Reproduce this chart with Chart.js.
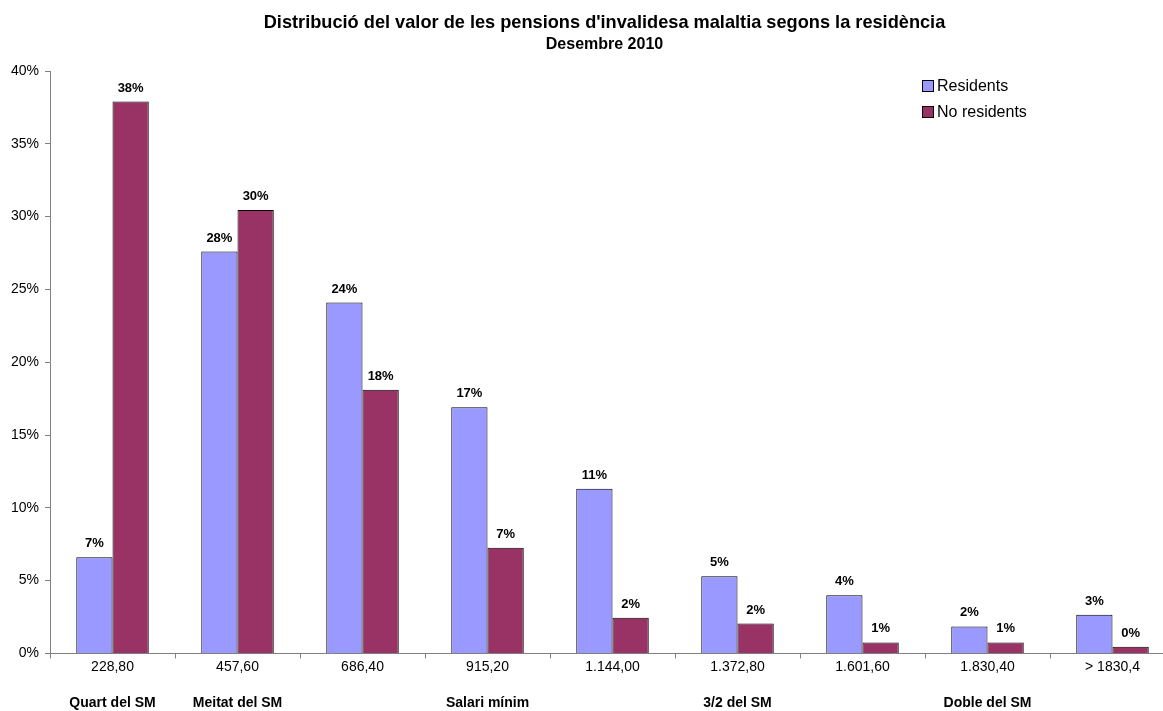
<!DOCTYPE html>
<html lang="ca">
<head>
  <meta charset="UTF-8">
  <title>Pensions d'invalidesa malaltia segons la residència</title>
  <style>
    html, body {
      margin: 0;
      padding: 0;
      background: #fff;
      overflow: hidden;
    }
    #chart {
      display: block;
    }
  </style>
  <script src="https://cdn.jsdelivr.net/npm/chart.js"></script>
</head>
<body>
  <canvas id="chart" width="1206" height="732"></canvas>

  <script>
    // Import trams (EUR) and the reference level under some of them
    const trams = ['228,80', '457,60', '686,40', '915,20', '1.144,00', '1.372,80', '1.601,60', '1.830,40', '> 1830,4'];
    const referencies = ['Quart del SM', 'Meitat del SM', '', 'Salari mínim', '', '3/2 del SM', '', 'Doble del SM', ''];

    // Share of pensions in each tram (%)
    const residents = [6.6, 27.6, 24.1, 16.9, 11.3, 5.3, 4.0, 1.85, 2.65];
    const noResidents = [37.9, 30.45, 18.1, 7.25, 2.45, 2.05, 0.75, 0.75, 0.45];

    const yTicks = [0, 5, 10, 15, 20, 25, 30, 35, 40];

    const titol = "Distribució del valor de les pensions d'invalidesa malaltia segons la residència";
    const subtitol = 'Desembre 2010';

    const FONT = '"Liberation Sans", Arial, sans-serif';

    // Two-line heading, centred a little left of the plot centre
    const heading = {
      id: 'heading',
      afterDraw(chart) {
        const ctx = chart.ctx;
        const area = chart.chartArea;
        const cx = (area.left + area.right) / 2 - 8;
        ctx.save();
        ctx.fillStyle = '#000';
        ctx.textAlign = 'center';
        ctx.textBaseline = 'middle';
        ctx.font = 'bold 18.2px ' + FONT;
        ctx.fillText(titol, cx, 23);
        ctx.font = 'bold 16px ' + FONT;
        ctx.fillText(subtitol, cx, 45);
        ctx.restore();
      }
    };

    // Percentage labels above every bar
    const barLabels = {
      id: 'barLabels',
      afterDatasetsDraw(chart) {
        const ctx = chart.ctx;
        ctx.save();
        ctx.font = 'bold 13px ' + FONT;
        ctx.fillStyle = '#000';
        ctx.textAlign = 'center';
        ctx.textBaseline = 'alphabetic';
        chart.data.datasets.forEach((ds, i) => {
          chart.getDatasetMeta(i).data.forEach((bar, j) => {
            ctx.fillText(Math.round(ds.data[j]) + '%', bar.x, bar.y - 10);
          });
        });
        ctx.restore();
      }
    };

    // Legend boxes in the upper right corner of the plot
    const cornerLegend = {
      id: 'cornerLegend',
      afterDraw(chart) {
        const ctx = chart.ctx;
        const area = chart.chartArea;
        const x = area.right - 253;
        ctx.save();
        ctx.font = '16px ' + FONT;
        ctx.textBaseline = 'middle';
        chart.data.datasets.forEach((ds, i) => {
          const y = area.top + 15 + i * 26;
          ctx.fillStyle = ds.backgroundColor;
          ctx.fillRect(x, y - 5, 11, 11);
          ctx.strokeStyle = '#000';
          ctx.lineWidth = 1;
          ctx.strokeRect(x + 0.5, y - 5.5, 11, 11);
          ctx.fillStyle = '#000';
          ctx.fillText(ds.label, x + 15, y + 1);
        });
        ctx.restore();
      }
    };

    new Chart(document.getElementById('chart'), {
      type: 'bar',
      data: {
        labels: trams,
        datasets: [
          {
            label: 'Residents',
            data: residents,
            backgroundColor: '#9999FF',
            borderColor: '#000',
            borderWidth: 1,
            categoryPercentage: 0.58,
            barPercentage: 1.0
          },
          {
            label: 'No residents',
            data: noResidents,
            backgroundColor: '#993366',
            borderColor: '#000',
            borderWidth: 1,
            categoryPercentage: 0.58,
            barPercentage: 1.0
          }
        ]
      },
      options: {
        responsive: false,
        animation: false,
        layout: {
          padding: { left: 5, right: 31, top: 71, bottom: 0 }
        },
        plugins: {
          legend: { display: false },
          tooltip: { enabled: false },
          title: { display: false }
        },
        scales: {
          x: {
            type: 'category',
            grid: {
              display: true,
              drawOnChartArea: false,
              offset: true,
              tickLength: 5,
              color: '#808080'
            },
            border: { color: '#808080' },
            ticks: {
              color: '#000',
              font: { family: FONT, size: 14 },
              maxRotation: 0,
              autoSkip: false,
              padding: 0
            }
          },
          x2: {
            type: 'category',
            labels: referencies,
            position: 'bottom',
            grid: { display: false, drawTicks: false },
            border: { display: false },
            ticks: {
              color: '#000',
              font: { family: FONT, size: 14, weight: 'bold' },
              maxRotation: 0,
              autoSkip: false,
              padding: 20
            }
          },
          y: {
            min: 0,
            max: 40,
            afterBuildTicks(scale) {
              scale.ticks = yTicks.map(v => ({ value: v }));
            },
            grid: {
              display: true,
              drawOnChartArea: false,
              tickLength: 5,
              color: '#808080'
            },
            border: { color: '#808080' },
            ticks: {
              color: '#000',
              font: { family: FONT, size: 14 },
              padding: 6,
              callback: v => v + '%'
            }
          }
        }
      },
      plugins: [heading, barLabels, cornerLegend]
    });
  </script>
</body>
</html>
